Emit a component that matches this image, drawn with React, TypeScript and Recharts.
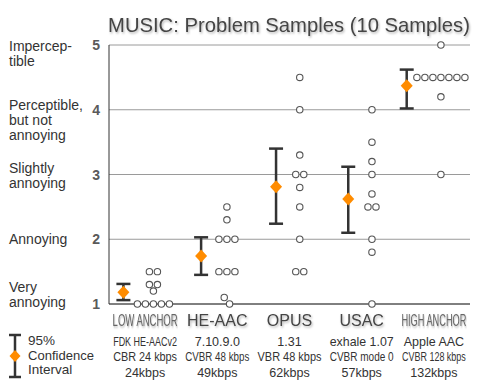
import { useLayoutEffect, useRef } from "react";
import { ComposedChart, Scatter, XAxis, YAxis, CartesianGrid, ErrorBar } from "recharts";

const groups = ["LOW ANCHOR", "HE-AAC", "OPUS", "USAC", "HIGH ANCHOR"];
const encoders = ["FDK HE-AACv2", "7.10.9.0", "1.31", "exhale 1.07", "Apple AAC"];
const modes = ["CBR 24 kbps", "CVBR 48 kbps", "VBR 48 kbps", "CVBR mode 0", "CVBR 128 kbps"];
const rates = ["24kbps", "49kbps", "62kbps", "57kbps", "132kbps"];

const scores = [
  [1, 1, 1, 1, 1, 1.2, 1.3, 1.3, 1.5, 1.5],
  [1, 1.1, 1.5, 1.5, 1.5, 2, 2, 2, 2.3, 2.5],
  [1.5, 1.5, 2, 2.5, 2.8, 3, 3, 3.3, 4, 4.5],
  [1, 1.8, 2, 2.5, 2.5, 2.7, 3, 3.2, 3.5, 4],
  [3, 4.2, 4.5, 4.5, 4.5, 4.5, 4.5, 4.5, 4.5, 5],
];
const means = [1.18, 1.74, 2.81, 2.62, 4.37];
const ciLow = [1.06, 1.45, 2.24, 2.1, 4.02];
const ciHigh = [1.31, 2.03, 3.4, 3.12, 4.62];

const scaleTicks = [1, 2, 3, 4, 5];
const scaleLabels = [
  ["Very", "annoying"],
  ["Annoying"],
  ["Slightly", "annoying"],
  ["Perceptible,", "but not", "annoying"],
  ["Impercep-", "tible"],
];

const FONT = "'Liberation Sans', Arial, sans-serif";
const PX_PER_UNIT = 361 / 5;
const STEP = 8 / PX_PER_UNIT;

// simple centred-row swarm for each group
const dots: { x: number; y: number }[] = [];
const meanPts: { x: number; y: number; err: number[] }[] = [];
scores.forEach((vals, gi) => {
  const counts = new Map<number, number>();
  vals.forEach((v) => counts.set(v, (counts.get(v) || 0) + 1));
  const maxN = Math.max(...counts.values());
  const center = gi + 0.66 - 0.009 * maxN;
  const keys = [...counts.keys()].sort((a, b) => a - b);
  keys.forEach((v, i) => {
    const n = counts.get(v)!;
    let shift = 0;
    if (n === 1) {
      const below = keys[i - 1];
      const above = keys[i + 1];
      if (above !== undefined && above - v < 0.15 && counts.get(above) === 1) shift = STEP / 3;
      if (below !== undefined && v - below < 0.15 && counts.get(below) === 1) shift = -STEP / 3;
    }
    for (let k = 0; k < n; k++) {
      dots.push({ x: center + (k - (n - 1) / 2) * STEP + shift, y: v });
    }
  });
  meanPts.push({
    x: center - (19.5 + 2.1 * maxN) / PX_PER_UNIT,
    y: means[gi],
    err: [means[gi] - ciLow[gi], ciHigh[gi] - means[gi]],
  });
});

// squeeze a label horizontally when it is wider than maxWidth
function FitText({ maxWidth, x, children, ...rest }: any) {
  const ref = useRef<SVGTextElement>(null);
  useLayoutEffect(() => {
    const el = ref.current;
    if (!el) return;
    el.removeAttribute("transform");
    const w = el.getComputedTextLength();
    if (w > maxWidth) {
      const s = maxWidth / w;
      el.setAttribute("transform", `translate(${x},0) scale(${s},1) translate(${-x},0)`);
    }
  });
  return (
    <text ref={ref} x={x} {...rest}>
      {children}
    </text>
  );
}

const firstLineDy = [-12.5, 4.5, -2, 0.5, 6];

const YTick = (props: any) => {
  const { x, y, payload } = props;
  const idx = scaleTicks.indexOf(payload.value);
  const lines = scaleLabels[idx] || [];
  return (
    <g fontFamily={FONT}>
      <text x={x} y={y + 5} textAnchor="end" fontSize={14} fontWeight="bold" fill="#5a5a5a">
        {payload.value}
      </text>
      {lines.map((l, i) => (
        <text key={i} x={9} y={y + firstLineDy[idx] + i * 15} fontSize={14} fill="#333">
          {l}
        </text>
      ))}
    </g>
  );
};

const XTick = (props: any) => {
  const { x, y, payload } = props;
  const i = Math.floor(payload.value);
  const anchor = i === 0 || i === 4;
  return (
    <g fontFamily={FONT} textAnchor="middle">
      <FitText x={x} y={y + 22} fontSize={16} maxWidth={65} fill={anchor ? "#666" : "#444"} filter="url(#soft)">
        {groups[i]}
      </FitText>
      <FitText x={x} y={y + 42} fontSize={12.5} maxWidth={64} fill="#333">
        {encoders[i]}
      </FitText>
      <FitText x={x} y={y + 57} fontSize={12.5} maxWidth={64} fill="#333">
        {modes[i]}
      </FitText>
      <FitText x={x} y={y + 73} fontSize={12.5} maxWidth={64} fill="#333">
        {rates[i]}
      </FitText>
    </g>
  );
};

const Circle = (p: any) => (
  <circle cx={p.cx} cy={p.cy} r={3.2} fill="#fff" stroke="#555" strokeWidth={1.1} />
);

const Diamond = (p: any) => (
  <polygon
    points={`${p.cx},${p.cy - 6.5} ${p.cx + 6},${p.cy} ${p.cx},${p.cy + 6.5} ${p.cx - 6},${p.cy}`}
    fill="#FF8C00"
  />
);

export default function App() {
  return (
    <div style={{ position: "absolute", left: 0, top: 0, width: 480, height: 390, background: "#fff" }}>
      <ComposedChart width={480} height={390} margin={{ top: 45, right: 10, left: 0, bottom: 0 }}>
        <CartesianGrid vertical={false} stroke="#9a9a9a" />
        <XAxis
          type="number"
          dataKey="x"
          domain={[0, 5]}
          ticks={[0.5, 1.5, 2.5, 3.5, 4.5]}
          height={86}
          axisLine={{ stroke: "#333" }}
          tickLine={false}
          tickSize={0}
          tickMargin={0}
          tick={<XTick />}
          interval={0}
        />
        <YAxis
          type="number"
          dataKey="y"
          domain={[1, 5]}
          ticks={scaleTicks}
          width={109}
          axisLine={{ stroke: "#333" }}
          tickLine={false}
          tickSize={0}
          tickMargin={9}
          tick={<YTick />}
          interval={0}
        />
        <Scatter data={dots} shape={<Circle />} isAnimationActive={false} />
        <Scatter data={meanPts} shape={<Diamond />} isAnimationActive={false}>
          <ErrorBar dataKey="err" direction="y" width={7} stroke="#333" strokeWidth={2.5} isAnimationActive={false} />
        </Scatter>
      </ComposedChart>
      <svg width={480} height={390} style={{ position: "absolute", left: 0, top: 0, pointerEvents: "none" }}>
        <defs>
          <filter id="soft" x="-10%" y="-30%" width="130%" height="180%">
            <feDropShadow dx="1" dy="1.5" stdDeviation="1" floodColor="#000" floodOpacity="0.3" />
          </filter>
        </defs>
        <FitText x={289} y={32} textAnchor="middle" fontFamily={FONT} fontSize={20.5} maxWidth={362} fill="#444" filter="url(#soft)">
          MUSIC: Problem Samples (10 Samples)
        </FitText>
        <g stroke="#333" strokeWidth={2.5}>
          <line x1={15} y1={335} x2={15} y2={377} />
          <line x1={9} y1={335} x2={21} y2={335} />
          <line x1={9} y1={377} x2={21} y2={377} />
        </g>
        <polygon points="15,350 20.5,356 15,362 9.5,356" fill="#FF8C00" />
        <g fontFamily={FONT} fontSize={13.5} fill="#333">
          <FitText x={28} y={345} maxWidth={66}>95%</FitText>
          <FitText x={28} y={360} maxWidth={66}>Confidence</FitText>
          <FitText x={28} y={374} maxWidth={66}>Interval</FitText>
        </g>
      </svg>
    </div>
  );
}
